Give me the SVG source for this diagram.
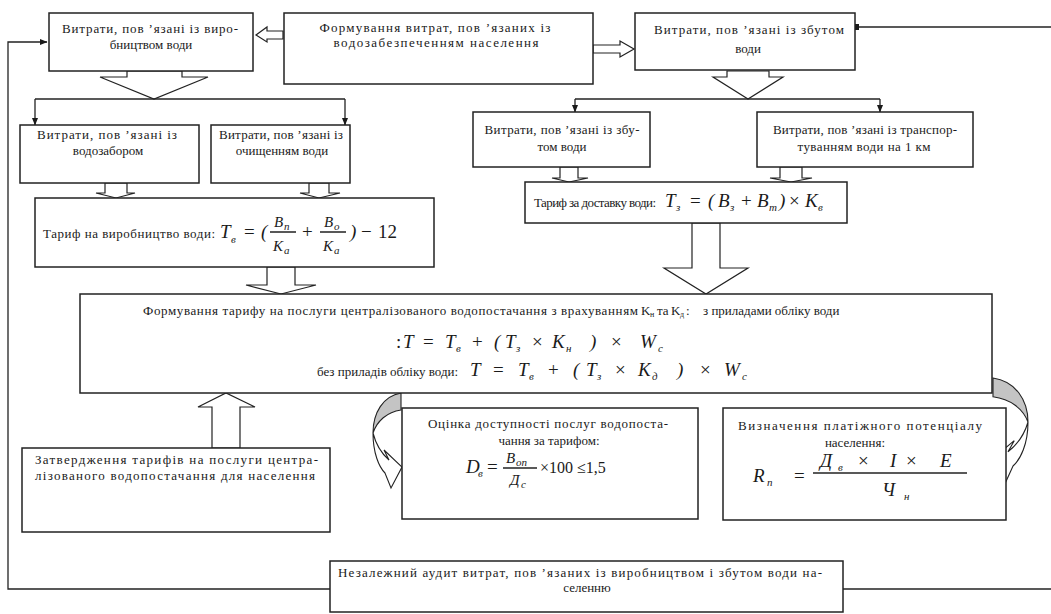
<svg xmlns="http://www.w3.org/2000/svg" width="1051" height="614" viewBox="0 0 1051 614">
<defs>
<style>
.bx{fill:#fff;stroke:#222;stroke-width:1.5}
.ln{fill:none;stroke:#222;stroke-width:1.3}
.ha{fill:#fff;stroke:#222;stroke-width:1.2}
.t{font-size:13px;fill:#1a1a1a}
.c{text-anchor:middle}
.m{font-style:italic;font-size:19px;fill:#1a1a1a}
.u{font-style:normal}
.s{font-size:11px}
.cg{fill:#c4c4c4;stroke:#222;stroke-width:1.1}
.cw{fill:#fff;stroke:#222;stroke-width:1.1}
</style>
<marker id="ah" markerWidth="8" markerHeight="8" refX="7.5" refY="4" orient="auto" markerUnits="userSpaceOnUse">
<path d="M0,0.8 L8,4 L0,7.2 Z" fill="#1a1a1a"/>
</marker>
<g id="curve">
<path class="cg" vector-effect="non-scaling-stroke" d="M0,0 C-18,3 -28,20 -28,40 C-24,28 -14,19 0,17 Z"/>
<path class="cw" vector-effect="non-scaling-stroke" d="M-28,40 C-28,60 -22,74 -16,80 L-10,95 L1,74 L-17,57 L-12,67 C-20,60 -25,52 -28,40 Z"/>
</g>
</defs>

<g id="connectors">
<path class="ln" d="M330,589 L8,589 L8,42 L47,42" marker-end="url(#ah)"/>
<path class="ln" d="M843,589 L1051,589"/>
<path class="ln" d="M857,27 L1051,27"/>
<rect x="854" y="24" width="5" height="6" fill="#1a1a1a"/>
<polygon class="ha" points="283,31 267,31 267,27 256,35 267,42 267,39 283,39"/>
<polygon class="ha" points="593,45 620,45 620,41 634,49 620,57 620,53 593,53"/>
<polygon class="ha" points="127,71 127,77 100,77 154,99 208,77 182,77 182,71"/>
<path class="ln" d="M35,99 L345,99"/>
<path class="ln" d="M35,99 L35,125" marker-end="url(#ah)"/>
<path class="ln" d="M345,99 L345,125" marker-end="url(#ah)"/>
<polygon class="ha" points="727,71 727,77 713,77 748,99 783,77 769,77 769,71"/>
<path class="ln" d="M575,99 L880,99"/>
<path class="ln" d="M575,99 L575,112" marker-end="url(#ah)"/>
<path class="ln" d="M880,99 L880,112" marker-end="url(#ah)"/>
<polygon class="ha" points="105,183 105,193 96,193 116,198 135,193 127,193 127,183"/>
<polygon class="ha" points="309,183 309,193 300,193 319,198 340,193 329,193 329,183"/>
<polygon class="ha" points="560,167 560,178 552,178 569,182 588,178 578,178 578,167"/>
<polygon class="ha" points="780,167 780,178 770,178 791,182 812,178 802,178 802,167"/>
<polygon class="ha" points="267,267 267,285 246,285 281,294 316,285 295,285 295,267"/>
<polygon class="ha" points="692,223 692,268 664,268 706,294 748,268 720,268 720,223"/>
<polygon class="ha" points="212,448 212,407 198,407 226,393 255,407 240,407 240,448"/>
<use href="#curve" transform="translate(401,393)"/>
<use href="#curve" transform="translate(993,378) scale(-1.25,1.1)"/>
</g>

<g font-family="'Liberation Serif', 'Times New Roman', Times, serif">
<g id="n-prod">
<rect class="bx" x="49" y="13" width="204" height="58"/>
<text class="t c" x="150" y="33" textLength="176" lengthAdjust="spacing">Витрати, пов ’язані із виро-</text>
<text class="t c" x="151" y="49">бництвом води</text>
</g>

<g id="n-form">
<rect class="bx" x="284" y="13" width="309" height="71"/>
<text class="t c" x="435" y="32" textLength="231" lengthAdjust="spacing">Формування витрат, пов ’язаних із</text>
<text class="t c" x="436" y="47" textLength="205" lengthAdjust="spacing">водозабезпеченням населення</text>
</g>

<g id="n-sale">
<rect class="bx" x="635" y="13" width="220" height="57"/>
<text class="t c" x="749" y="34" textLength="190" lengthAdjust="spacing">Витрати, пов ’язані із збутом</text>
<text class="t c" x="748" y="53">води</text>
</g>

<g id="n-intake">
<rect class="bx" x="20" y="125" width="179" height="58"/>
<text class="t c" x="107" y="139" textLength="140" lengthAdjust="spacing">Витрати, пов ’язані із</text>
<text class="t c" x="108" y="155">водозабором</text>
</g>

<g id="n-treat">
<rect class="bx" x="211" y="125" width="139" height="58"/>
<text class="t c" x="281" y="139" textLength="124" lengthAdjust="spacing">Витрати, пов ’язані із</text>
<text class="t c" x="282" y="155">очищенням води</text>
</g>

<g id="n-tprod">
<rect class="bx" x="35" y="198" width="399" height="69"/>
<text class="t" x="43" y="238" textLength="172" lengthAdjust="spacing">Тариф на виробництво води:</text>
<text class="m">
<tspan x="220" y="238">T</tspan><tspan class="s" x="231" y="243">в</tspan>
<tspan class="u" x="244" y="238">=</tspan>
<tspan x="261" y="238">(</tspan>
<tspan x="274" y="227" font-size="15">B</tspan><tspan class="s" x="284" y="230">п</tspan>
<tspan x="273" y="251" font-size="15">K</tspan><tspan class="s" x="284" y="254">а</tspan>
<tspan class="u" x="302" y="238">+</tspan>
<tspan x="324" y="227" font-size="15">B</tspan><tspan class="s" x="334" y="230">о</tspan>
<tspan x="323" y="251" font-size="15">K</tspan><tspan class="s" x="334" y="254">а</tspan>
<tspan x="350" y="238">)</tspan>
<tspan class="u" x="361" y="238">−</tspan>
<tspan class="u" x="378" y="238">12</tspan>
</text>
<path class="ln" stroke-width="1" d="M270,232 L296,232 M320,232 L346,232"/>
</g>

<g id="n-sale2">
<rect class="bx" x="473" y="112" width="177" height="55"/>
<text class="t c" x="562" y="134" textLength="155" lengthAdjust="spacing">Витрати, пов ’язані із збу-</text>
<text class="t c" x="562" y="151">том води</text>
</g>

<g id="n-transp">
<rect class="bx" x="757" y="112" width="216" height="55"/>
<text class="t c" x="865" y="134" textLength="184" lengthAdjust="spacing">Витрати, пов ’язані із транспор-</text>
<text class="t c" x="864" y="151" textLength="133" lengthAdjust="spacing">туванням води на 1 км</text>
</g>

<g id="n-tdel">
<rect class="bx" x="525" y="182" width="322" height="41"/>
<text class="t" x="534" y="207" textLength="122" lengthAdjust="spacing">Тариф за доставку води:</text>
<text class="m">
<tspan x="665" y="207">T</tspan><tspan class="s" x="676" y="211">з</tspan>
<tspan class="u" x="690" y="207">=</tspan>
<tspan x="708" y="207">(</tspan>
<tspan x="718" y="207">B</tspan><tspan class="s" x="730" y="211">з</tspan>
<tspan class="u" x="741" y="207">+</tspan>
<tspan x="757" y="207">B</tspan><tspan class="s" x="769" y="211">т</tspan>
<tspan x="779" y="207">)</tspan>
<tspan class="u" x="789" y="207">×</tspan>
<tspan x="805" y="207">K</tspan><tspan class="s" x="818" y="211">в</tspan>
</text>
</g>

<g id="n-tariff">
<rect class="bx" x="80" y="294" width="912" height="99"/>
<text class="t" x="143" y="315" textLength="495" lengthAdjust="spacing">Формування тарифу на послуги централізованого водопостачання з врахуванням</text>
<text class="t">
<tspan x="641" y="315">K</tspan><tspan font-size="8" x="650" y="317">н</tspan>
<tspan x="657" y="315">та</tspan>
<tspan x="671" y="315">K</tspan><tspan font-size="8" x="680" y="317">д</tspan><tspan x="686" y="315">:</tspan>
</text>
<text class="t" x="703" y="315">з  приладами обліку води</text>
<text class="m">
<tspan class="u" x="396" y="348">:</tspan>
<tspan x="403" y="348">T</tspan>
<tspan class="u" x="423" y="348">=</tspan>
<tspan x="445" y="348">T</tspan><tspan class="s" x="456" y="352">в</tspan>
<tspan class="u" x="472" y="348">+</tspan>
<tspan x="494" y="348">(</tspan>
<tspan x="505" y="348">T</tspan><tspan class="s" x="516" y="352">з</tspan>
<tspan class="u" x="532" y="348">×</tspan>
<tspan x="552" y="348">K</tspan><tspan class="s" x="566" y="352">н</tspan>
<tspan x="590" y="348">)</tspan>
<tspan class="u" x="611" y="348">×</tspan>
<tspan x="640" y="348">W</tspan><tspan class="s" x="658" y="352">c</tspan>
</text>
<text class="t" x="317" y="376">без приладів обліку води:</text>
<text class="m">
<tspan x="470" y="376">T</tspan>
<tspan class="u" x="493" y="376">=</tspan>
<tspan x="518" y="376">T</tspan><tspan class="s" x="529" y="380">в</tspan>
<tspan class="u" x="548" y="376">+</tspan>
<tspan x="573" y="376">(</tspan>
<tspan x="586" y="376">T</tspan><tspan class="s" x="597" y="380">з</tspan>
<tspan class="u" x="615" y="376">×</tspan>
<tspan x="638" y="376">K</tspan><tspan class="s" x="652" y="380">д</tspan>
<tspan x="677" y="376">)</tspan>
<tspan class="u" x="700" y="376">×</tspan>
<tspan x="724" y="376">W</tspan><tspan class="s" x="742" y="380">c</tspan>
</text>
</g>

<g id="n-approve">
<rect class="bx" x="22" y="448" width="308" height="84"/>
<text class="t" x="35" y="464" textLength="283" lengthAdjust="spacing">Затвердження тарифів на послуги центра-</text>
<text class="t" x="35" y="480" textLength="280" lengthAdjust="spacing">лізованого водопостачання для населення</text>
</g>

<g id="n-access">
<rect class="bx" x="402" y="408" width="296" height="111"/>
<text class="t c" x="548" y="428" textLength="240" lengthAdjust="spacing">Оцінка доступності послуг водопоста-</text>
<text class="t c" x="549" y="445">чання за тарифом:</text>
<text class="m" font-size="17">
<tspan x="466" y="473">D</tspan><tspan class="s" x="478" y="477">в</tspan>
<tspan class="u" x="487" y="473">=</tspan>
<tspan x="506" y="463" font-size="15">B</tspan><tspan class="s" x="516" y="466">оп</tspan>
<tspan x="510" y="485" font-size="15">Д</tspan><tspan class="s" x="521" y="488">с</tspan>
<tspan class="u" x="540" y="473" font-size="16">×100 ≤1,5</tspan>
</text>
<path class="ln" stroke-width="1" d="M503,468 L537,468"/>
</g>

<g id="n-potential">
<rect class="bx" x="723" y="408" width="283" height="112"/>
<text class="t c" x="860" y="430" textLength="244" lengthAdjust="spacing">Визначення платіжного потенціалу</text>
<text class="t c" x="855" y="447">населення:</text>
<text class="m" font-size="17">
<tspan x="753" y="482">R</tspan><tspan class="s" x="767" y="486">п</tspan>
<tspan class="u" x="794" y="482">=</tspan>
<tspan x="820" y="467">Д</tspan><tspan class="s" x="838" y="471">в</tspan>
<tspan class="u" x="858" y="467">×</tspan>
<tspan x="890" y="467">І</tspan>
<tspan class="u" x="906" y="467">×</tspan>
<tspan x="940" y="467">Е</tspan>
<tspan x="882" y="496">Ч</tspan><tspan class="s" x="904" y="500">н</tspan>
</text>
<path class="ln" stroke-width="1" d="M813,473 L967,473"/>
</g>

<g id="n-audit">
<rect class="bx" x="330" y="561" width="513" height="51"/>
<text class="t" x="338" y="577" textLength="484" lengthAdjust="spacing">Незалежний аудит витрат, пов ’язаних із виробництвом і збутом води на-</text>
<text class="t c" x="587" y="592">селенню</text>
</g>
</g>
</svg>
